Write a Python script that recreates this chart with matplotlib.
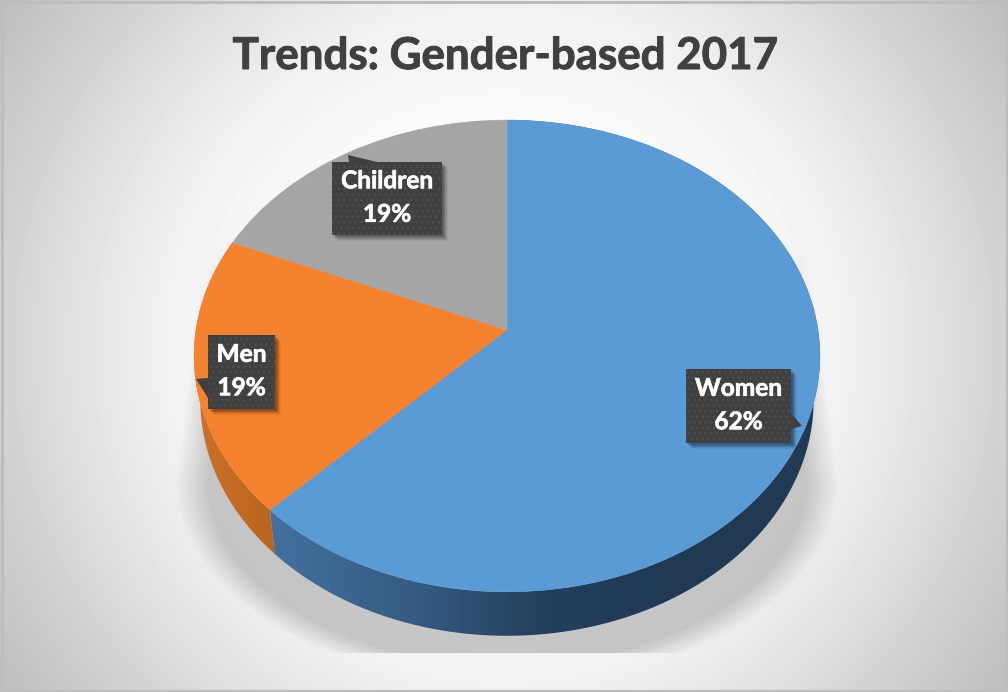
import matplotlib
matplotlib.use('Agg')
import matplotlib.pyplot as plt
import matplotlib.patheffects as pe
import numpy as np
from matplotlib.colors import LinearSegmentedColormap
from matplotlib.patches import Polygon, Rectangle
from matplotlib.transforms import Transform

# Chart data
categories = ['Women', 'Men', 'Children']
shares = [62.4, 19.0, 18.6]
slice_colors = ['#5b9bd5', '#f5822f', '#a5a5a5']
title_text = 'Trends: Gender-based 2017'

plt.rcParams['font.family'] = ['Lato', 'DejaVu Sans']

W, H = 1008, 692

# Pie geometry in pixels: apex, radii and tilt of the 3D look
CX, CY = 507, 330
RX, RY = 311, 233
TILT = 0.11
DEPTH = 44
BOTTOM_SCALE = 0.98


class TiltTransform(Transform):
    """Maps the flat unit pie onto the tilted disc (in pixel coordinates)."""
    input_dims = 2
    output_dims = 2

    def transform_non_affine(self, values):
        values = np.asarray(values)
        d = 1 + TILT * values[:, 1]
        return np.column_stack((CX + RX * values[:, 0] / d, CY - RY * values[:, 1] / d))


def rim(start, end, n=200):
    """Pixel points of the outer rim between two fractions of the pie (clockwise from top)."""
    theta = np.linspace(start, end, n) * 2 * np.pi
    return TiltTransform().transform_non_affine(np.column_stack((np.sin(theta), np.cos(theta))))


def side_wall(ax, start, end, colors):
    # Wall below the rim of one slice, filled with a left-to-right gradient
    top = rim(start, end)
    bottom = np.column_stack((CX + (top[:, 0] - CX) * BOTTOM_SCALE, top[:, 1] + DEPTH))
    wall = np.vstack((top, bottom[::-1]))
    x0, x1 = wall[:, 0].min(), wall[:, 0].max()
    y0, y1 = wall[:, 1].min(), wall[:, 1].max()
    cmap = LinearSegmentedColormap.from_list('wall', colors)
    im = ax.imshow(np.linspace(0, 1, 256).reshape(1, -1), cmap=cmap, aspect='auto',
                   extent=(x0, x1, y1, y0), zorder=3)
    im.set_clip_path(Polygon(wall, transform=ax.transData))


def callout(ax, x0, y0, x1, y1, tail, text, size=17.6):
    # Dark dotted data label with a small pointer
    box = [(x0, y0), (x1, y0), (x1, y1), (x0, y1)]
    for off, alpha in ((6, 0.05), (5, 0.07), (4, 0.09), (3, 0.12), (2, 0.15)):
        ax.add_patch(Rectangle((x0 + off, y0 + off), x1 - x0, y1 - y0, fc='#000000',
                               ec='none', alpha=alpha, zorder=5))
    ax.add_patch(Polygon(tail, fc='#404040', ec='none', zorder=6))
    ax.add_patch(Polygon(box, fc='#404040', ec='#4e4e4e', lw=0, hatch='...', zorder=6))
    txt = ax.text((x0 + x1) / 2, (y0 + y1) / 2 - 1, text, color='white', fontsize=size, fontweight='bold',
                  ha='center', va='center', linespacing=1.55, zorder=7)
    txt.set_path_effects([pe.withStroke(linewidth=0.5, foreground='white')])


fig = plt.figure(figsize=(W / 100, H / 100), dpi=100)
ax = fig.add_axes([0, 0, 1, 1])

# Slices go through the normal pie call, the transform does the tilting
wedges, _ = ax.pie(shares, colors=slice_colors, startangle=90, counterclock=False,
                   wedgeprops={'transform': TiltTransform() + ax.transData, 'zorder': 4})
for wedge, color in zip(wedges, slice_colors):
    wedge.set_edgecolor(color)
    wedge.set_linewidth(0.4)
ax.set_aspect('auto')

yy, xx = np.mgrid[0:H, 0:W] + 0.5

# Background: radial grey gradient
dist = np.hypot(xx - 504, yy - 346)
shade = np.interp(dist, [0, 200, 334, 444, 486, 607], [255, 252, 242, 222, 213, 190]) / 255
ax.imshow(shade, cmap='gray', vmin=0, vmax=1, extent=(0, W, H, 0), aspect='auto', zorder=0)

# Soft shadow under the pie: flared sides, round lower part, cut off flat at the bottom
dx = np.abs(xx - 507)
r = np.where(yy < 480, dx / (302 + (yy - 250) * 30 / 230), np.hypot(dx / 332, (yy - 480) / 205))
shadow = np.zeros((H, W, 4))
alpha = 0.19 * np.clip((1 - r) / 0.1, 0, 1)
alpha *= np.clip((yy - 240) / 100, 0, 1)
alpha[yy > 653] = 0
shadow[..., 3] = alpha
ax.imshow(shadow, extent=(0, W, H, 0), aspect='auto', zorder=1)

# Side walls, start and end taken from the shares
fractions = np.cumsum(shares) / np.sum(shares)
side_wall(ax, 0, fractions[0], ['#43709e', '#365d84', '#243f5b', '#203a54', '#203a54'])
side_wall(ax, fractions[0], fractions[1], ['#cc7129', '#b8651f'])

# Data labels
labels = [f'{name}\n{value:.0f}%' for name, value in zip(categories, shares)]
callout(ax, 686, 369, 791, 443, [(791, 413), (802, 426), (791, 429)], labels[0])
callout(ax, 208, 335, 275, 409, [(208, 378), (196, 379), (208, 398)], labels[1])
callout(ax, 332, 162, 442, 235, [(349, 162), (348, 155), (377, 162)], labels[2])

title = ax.text(505, 56, title_text, color='#404040', fontsize=31.6, fontweight='bold',
                ha='center', va='center', zorder=7)
title.set_path_effects([pe.withStroke(linewidth=0.7, foreground='#404040')])

# Chart frame
ax.add_patch(Rectangle((1.5, 1.5), W - 3, H - 3, fc='none', ec='#bdbdbd', lw=2.2, zorder=8))

ax.set_xlim(0, W)
ax.set_ylim(H, 0)
ax.axis('off')

fig.savefig('out.png', dpi=100)
